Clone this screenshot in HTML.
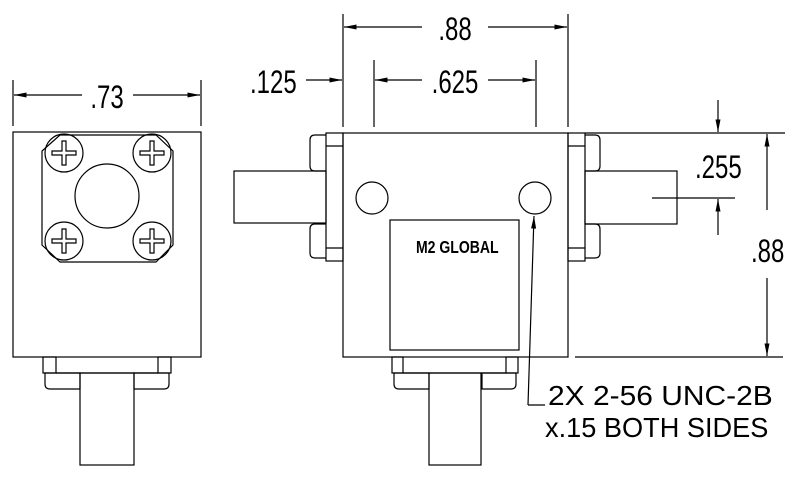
<!DOCTYPE html>
<html><head><meta charset="utf-8"><style>html,body{margin:0;padding:0;background:#fff}svg{display:block}</style></head>
<body>
<svg width="800" height="480" viewBox="0 0 800 480" xmlns="http://www.w3.org/2000/svg">
<defs>
<marker id="a" viewBox="0 0 10 4" refX="10" refY="2" markerWidth="14" markerHeight="5" markerUnits="userSpaceOnUse" orient="auto"><path d="M0,0 L10,2 L0,4 Z" fill="#000"/></marker>
<g id="sc" fill="none" stroke="#000" stroke-width="1.2"><circle cx="0" cy="0" r="19"/><path d="M-2,-12 L2,-12 L2,-2 L12,-2 L12,2 L2,2 L2,12 L-2,12 L-2,2 L-12,2 L-12,-2 L-2,-2 Z"/></g>
</defs>
<g fill="none" stroke="#000" stroke-width="1.2">
<!-- LEFT VIEW -->
<rect x="13" y="132" width="188" height="225"/>
<path d="M60,135 L156,135 L173,151 L173,245 L156,262 L60,262 L42,245 L42,151 Z"/>
<circle cx="107" cy="196" r="32"/>
<use href="#sc" x="64" y="153"/><use href="#sc" x="152" y="153"/>
<use href="#sc" x="64" y="241"/><use href="#sc" x="152" y="241"/>
<rect x="43" y="357" width="13" height="16"/><rect x="158" y="357" width="13" height="16"/>
<line x1="56" y1="373" x2="158" y2="373"/>
<path d="M45,373 L80,373 L80,389 L50,389 Q45,389 45,384 Z"/>
<path d="M134,373 L169,373 L169,384 Q169,389 164,389 L134,389 Z"/>
<rect x="80" y="373" width="54" height="92"/>
<line x1="13" y1="80" x2="13" y2="126"/><line x1="201" y1="80" x2="201" y2="126"/>
<line x1="82" y1="95" x2="14" y2="95" marker-end="url(#a)"/>
<line x1="133" y1="95" x2="200" y2="95" marker-end="url(#a)"/>

<!-- MIDDLE VIEW -->
<rect x="343" y="133" width="225" height="224"/>
<rect x="326" y="133" width="17" height="128"/><line x1="326" y1="146" x2="343" y2="146"/><line x1="326" y1="248" x2="343" y2="248"/>
<rect x="568" y="133" width="17" height="128"/><line x1="568" y1="146" x2="585" y2="146"/><line x1="568" y1="248" x2="585" y2="248"/>
<path d="M326,135 L315,135 Q310,135 310,140 L310,166 Q310,171 315,171 L326,171"/>
<path d="M326,224 L315,224 Q310,224 310,229 L310,253 Q310,258 315,258 L326,258"/>
<path d="M585,135 L595,135 Q600,135 600,140 L600,166 Q600,171 595,171 L585,171"/>
<path d="M585,224 L595,224 Q600,224 600,229 L600,253 Q600,258 595,258 L585,258"/>
<rect x="234" y="171" width="92" height="52"/>
<rect x="585" y="171" width="92" height="53"/>
<circle cx="372" cy="198" r="16"/><circle cx="535" cy="198" r="16"/>
<rect x="390" y="220" width="129" height="130"/>
<rect x="392" y="357" width="11" height="16"/><rect x="506" y="357" width="12" height="16"/>
<line x1="403" y1="373" x2="506" y2="373"/>
<path d="M394,373 L429,373 L429,389 L399,389 Q394,389 394,384 Z"/>
<path d="M482,373 L516,373 L516,384 Q516,389 511,389 L482,389 Z"/>
<rect x="429" y="373" width="52" height="92"/>
<path d="M528,405 L545,405"/>
<line x1="528" y1="405" x2="534" y2="216" marker-end="url(#a)"/>
<line x1="343" y1="14" x2="343" y2="127"/><line x1="568" y1="14" x2="568" y2="127"/>
<line x1="422" y1="27" x2="344" y2="27" marker-end="url(#a)"/>
<line x1="488" y1="27" x2="567" y2="27" marker-end="url(#a)"/>
<line x1="374" y1="60" x2="374" y2="127"/><line x1="536" y1="60" x2="536" y2="127"/>
<line x1="422" y1="80" x2="375" y2="80" marker-end="url(#a)"/>
<line x1="488" y1="80" x2="535" y2="80" marker-end="url(#a)"/>
<line x1="306" y1="80" x2="342" y2="80" marker-end="url(#a)"/>
<line x1="585" y1="133" x2="785" y2="133"/>
<line x1="575" y1="357" x2="783" y2="357"/>
<line x1="767" y1="210" x2="767" y2="134" marker-end="url(#a)"/>
<line x1="767" y1="278" x2="767" y2="356" marker-end="url(#a)"/>
<line x1="718" y1="100" x2="718" y2="132" marker-end="url(#a)"/>
<line x1="652" y1="198" x2="735" y2="198"/>
<line x1="718" y1="235" x2="718" y2="199" marker-end="url(#a)"/>
</g>
<g font-family="'Liberation Sans', sans-serif" fill="#000" stroke="none" font-size="32">
<text transform="translate(107,108) scale(0.75,1)" text-anchor="middle">.73</text>
<text transform="translate(455,40) scale(0.75,1)" text-anchor="middle">.88</text>
<text transform="translate(455,93) scale(0.75,1)" text-anchor="middle">.625</text>
<text transform="translate(250,93) scale(0.75,1)">.125</text>
<text transform="translate(695,178) scale(0.75,1)">.255</text>
<text transform="translate(751,262) scale(0.75,1)">.88</text>
<text transform="translate(548,405) scale(1.07,1)" font-size="28">2X 2-56 UNC-2B</text>
<text transform="translate(545,437) scale(0.97,1)" font-size="28">x.15 BOTH SIDES</text>
<text transform="translate(416,253) scale(0.78,1)" font-size="18" font-weight="bold">M2 GLOBAL</text>
</g>
</svg>
</body></html>
